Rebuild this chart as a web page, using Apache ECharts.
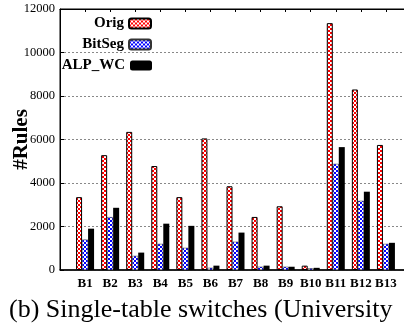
<!DOCTYPE html>
<html>
<head>
<meta charset="utf-8">
<script src="https://cdn.jsdelivr.net/npm/echarts@6/dist/echarts.min.js"></script>
<style>
  html, body { margin: 0; padding: 0; background: #fff; }
  #main { width: 404px; height: 329px; }
</style>
</head>
<body>
<div id="main"></div>
<script>
// data
var categories = ['B1', 'B2', 'B3', 'B4', 'B5', 'B6', 'B7', 'B8', 'B9', 'B10', 'B11', 'B12', 'B13'];
var origRules = [3350, 5280, 6350, 4780, 3350, 6050, 3850, 2440, 2930, 200, 11350, 8300, 5750];
var bitsegRules = [1400, 2430, 650, 1200, 1020, 100, 1300, 150, 150, 80, 4880, 3180, 1200];
var alpRules = [1900, 2860, 800, 2130, 2030, 200, 1720, 200, 150, 100, 5650, 3600, 1250];
var yTicks = [0, 2000, 4000, 6000, 8000, 10000, 12000];

var serif = 'Liberation Serif, Times New Roman, serif';

// small checker patterns like the gnuplot fills
function makePattern(fg) {
    var c = document.createElement('canvas');
    c.width = 4;
    c.height = 4;
    var ctx = c.getContext('2d');
    ctx.fillStyle = fg;
    ctx.fillRect(0, 0, 4, 4);
    ctx.fillStyle = '#ffffff';
    ctx.fillRect(0, 0, 2, 2);
    ctx.fillRect(2, 2, 2, 2);
    return { image: c, repeat: 'repeat' };
}

// pad one empty slot on each side so B1 sits one step in from the axis
var axisCats = [''].concat(categories, ['']);
function pad(arr) {
    return ['-'].concat(arr, ['-']);
}

var chart = echarts.init(document.getElementById('main'));

function legendItem(name, top) {
    return {
        data: [name],
        orient: 'vertical',
        align: 'right',
        right: 247,
        top: top,
        itemWidth: 22,
        itemHeight: 10,
        itemGap: 0,
        selectedMode: false,
        textStyle: {
            fontFamily: serif,
            fontWeight: 'bold',
            fontSize: 15,
            color: '#000'
        }
    };
}

chart.setOption({
    animation: false,
    title: {
        text: '(b) Single-table switches (University',
        left: 4,
        top: 292,
        textStyle: {
            fontFamily: serif,
            fontWeight: 'normal',
            fontSize: 26,
            color: '#000'
        }
    },
    legend: [
        legendItem('Orig', 11),
        legendItem('BitSeg', 32),
        legendItem('ALP_WC', 53)
    ],
    grid: {
        left: 60,
        right: -7,
        top: 9,
        bottom: 59,
        outerBoundsMode: 'none',
        containLabel: false,
        show: true,
        borderColor: '#000',
        borderWidth: 1
    },
    xAxis: [
        {
            type: 'category',
            data: axisCats,
            boundaryGap: false,
            axisLine: { lineStyle: { color: '#000', width: 1.5 } },
            axisTick: { show: false },
            axisLabel: {
                interval: 0,
                margin: 7,
                fontFamily: serif,
                fontWeight: 'bold',
                fontSize: 13,
                color: '#000'
            },
            splitLine: { show: false }
        },
        {
            type: 'category',
            data: axisCats,
            boundaryGap: false,
            position: 'top',
            axisLine: { lineStyle: { color: '#000', width: 1 } },
            axisTick: { show: true, inside: true, length: 3, interval: 0, lineStyle: { color: '#000' } },
            axisLabel: { show: false },
            splitLine: { show: false }
        }
    ],
    yAxis: {
        type: 'value',
        min: 0,
        max: 12000,
        interval: 2000,
        name: '#Rules',
        nameLocation: 'middle',
        nameGap: 28,
        nameMoveOverlap: false,
        nameTextStyle: {
            fontFamily: serif,
            fontWeight: 'bold',
            fontSize: 21,
            color: '#000'
        },
        axisLine: { show: true, lineStyle: { color: '#000', width: 1 } },
        axisTick: { show: true, inside: true, length: 4, lineStyle: { color: '#000' } },
        axisLabel: {
            margin: 5,
            fontFamily: serif,
            fontSize: 12.5,
            color: '#000',
            formatter: function (v) {
                return String(v);
            }
        },
        splitLine: {
            lineStyle: { color: '#888', type: [2, 2], width: 1 }
        }
    },
    series: [
        {
            name: 'Orig',
            type: 'bar',
            data: pad(origRules),
            barWidth: 6,
            barGap: '0%',
            itemStyle: {
                color: makePattern('#ff0000'),
                borderColor: '#000',
                borderWidth: 1
            }
        },
        {
            name: 'BitSeg',
            type: 'bar',
            data: pad(bitsegRules),
            barWidth: 6,
            barGap: '0%',
            itemStyle: {
                color: makePattern('#0000ff'),
                borderColor: '#333',
                borderWidth: 0.5
            }
        },
        {
            name: 'ALP_WC',
            type: 'bar',
            data: pad(alpRules),
            barWidth: 6,
            barGap: '0%',
            itemStyle: {
                color: '#000'
            }
        }
    ]
});
</script>
</body>
</html>
